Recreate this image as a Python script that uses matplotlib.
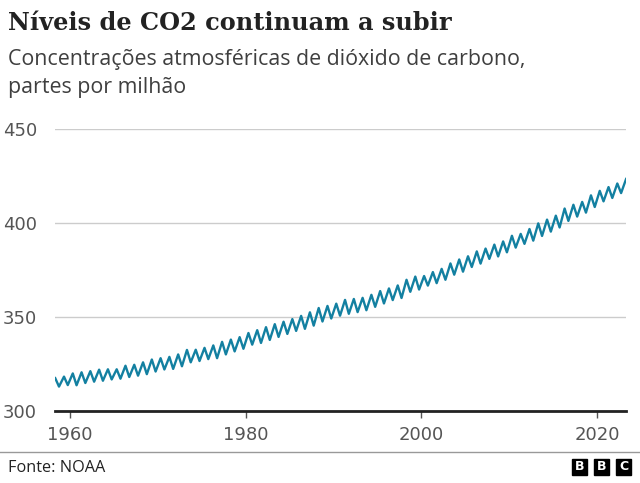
import matplotlib.pyplot as plt
from matplotlib.patches import Rectangle

# Mauna Loa CO2 (ppm): yearly seasonal high (around May) and low (around October)
anos = list(range(1958, 2024))
picos = [317.5, 318.3, 320.0, 320.6, 321.2, 322.0, 322.2, 322.2, 324.1, 324.6,
         325.9, 327.4, 328.1, 328.8, 330.1, 332.5, 332.6, 333.6, 334.9, 336.8,
         338.0, 339.3, 341.5, 343.0, 344.6, 346.2, 347.5, 348.9, 350.6, 352.5,
         354.8, 355.9, 357.1, 359.1, 359.6, 360.2, 361.8, 363.8, 365.2, 366.8,
         369.8, 371.5, 371.8, 373.9, 375.6, 378.5, 380.6, 382.3, 384.9, 386.4,
         388.5, 390.2, 393.2, 394.2, 396.8, 399.8, 401.8, 403.9, 407.7, 409.7,
         411.2, 414.7, 417.1, 419.1, 421.0, 423.4]
vales = [313.0, 313.8, 313.7, 314.9, 315.6, 316.1, 316.8, 317.2, 318.1, 318.8,
         319.6, 321.0, 322.1, 322.4, 323.8, 325.9, 326.6, 327.6, 328.1, 330.1,
         331.7, 333.1, 335.3, 336.2, 337.8, 339.4, 341.0, 342.6, 343.7, 345.4,
         347.6, 349.2, 350.7, 351.7, 352.6, 353.6, 355.4, 357.2, 359.0, 360.1,
         363.4, 364.6, 366.7, 368.0, 369.8, 372.5, 374.1, 376.6, 378.4, 380.9,
         382.2, 384.4, 386.9, 388.9, 390.6, 393.1, 395.4, 397.6, 401.1, 403.4,
         405.5, 408.5, 411.5, 413.3, 415.9]

# alternate high / low points in time order
x, y = [], []
for i, ano in enumerate(anos):
    x.append(ano + 0.32)
    y.append(picos[i])
    if i < len(vales):
        x.append(ano + 0.75)
        y.append(vales[i])

titulo = 'Níveis de CO2 continuam a subir'
subtitulo1 = 'Concentrações atmosféricas de dióxido de carbono,'
subtitulo2 = 'partes por milhão'
fonte = 'Fonte: NOAA'
yticks = [300, 350, 400, 450]
xticks = [1960, 1980, 2000, 2020]

fig = plt.figure(figsize=(6.4, 4.83), dpi=100)
ax = fig.add_axes([0.086, 0.149, 0.892, 0.584])

ax.plot(x, y, color='#1380A1', lw=1.7, solid_joinstyle='round')

ax.set_xlim(1958.3, 2023.3)
ax.set_ylim(300, 450)
ax.set_yticks(yticks)
ax.set_xticks(xticks)
ax.grid(axis='y', color='#cccccc', lw=1)
ax.set_axisbelow(True)
for s in ['top', 'right', 'left']:
    ax.spines[s].set_visible(False)
ax.spines['bottom'].set_color('#222222')
ax.spines['bottom'].set_linewidth(2)
ax.spines['bottom'].set_zorder(3)
ax.tick_params(axis='y', length=0, pad=13, labelsize=13, labelcolor='#555555')
ax.tick_params(axis='x', length=5, width=1, color='#555555', pad=6,
               labelsize=13, labelcolor='#555555')

fig.text(0.0125, 1 - 30 / 483, titulo, fontsize=17.3, family='DejaVu Serif',
         weight='bold', color='#222222', va='baseline')
fig.text(0.0125, 1 - 65 / 483, subtitulo1, fontsize=15.4, family='Open Sans',
         color='#3f3f3f', va='baseline')
fig.text(0.0125, 1 - 93 / 483, subtitulo2, fontsize=15.4, family='Open Sans',
         color='#3f3f3f', va='baseline')

# separator line and footer
fig.add_artist(plt.Line2D([0, 1], [0.065, 0.065], color='#999999', lw=1,
                          transform=fig.transFigure))
fig.text(0.0125, 1 - 472 / 483, fonte, fontsize=11.7, family='Open Sans',
         color='#222222', va='baseline')

# BBC blocks
for k, letra in enumerate('BBC'):
    x0 = (572 + k * 22) / 640
    fig.add_artist(Rectangle((x0, 8 / 483), 15 / 640, 16 / 483,
                             transform=fig.transFigure, color='black'))
    fig.text(x0 + 7.5 / 640, 16 / 483, letra, color='white', fontsize=9,
             weight='bold', family='DejaVu Sans', ha='center', va='center')

fig.savefig('out.png', dpi=100)
